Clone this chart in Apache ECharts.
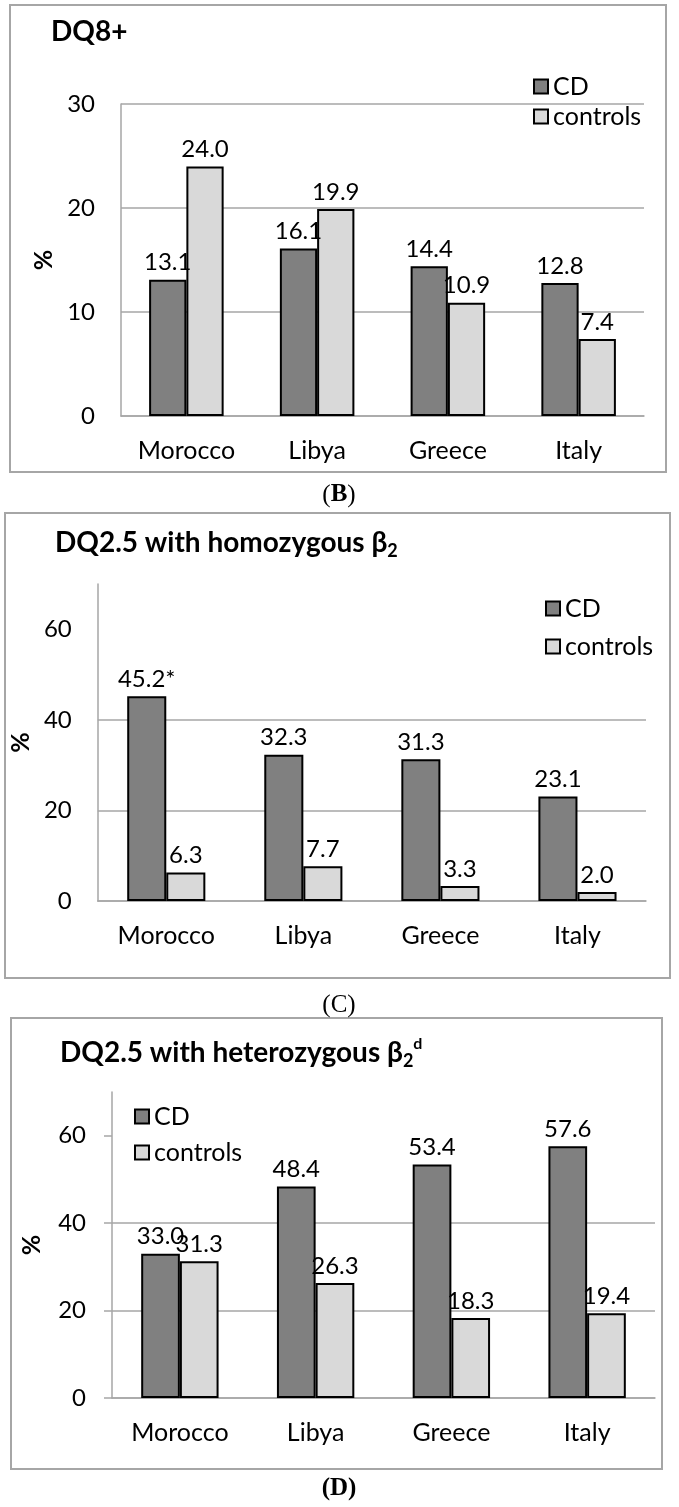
<!DOCTYPE html>
<html><head><meta charset="utf-8">
<script src="https://cdn.jsdelivr.net/npm/echarts@6/dist/echarts.min.js"></script>
<style>html,body{margin:0;padding:0;background:#fff}#c{width:679px;height:1507px}</style>
</head><body><div id="c"></div>
<script>
// ---- data ----
const categories = ['Morocco', 'Libya', 'Greece', 'Italy'];
const seriesNames = ['CD', 'controls'];
const dq8CD = [13.1, 16.1, 14.4, 12.8];
const dq8Controls = [24.0, 19.9, 10.9, 7.4];
const homoCD = [45.2, 32.3, 31.3, 23.1];
const homoControls = [6.3, 7.7, 3.3, 2.0];
const homoCDNote = ['*', '', '', ''];
const heteroCD = [33.0, 48.4, 53.4, 57.6];
const heteroControls = [31.3, 26.3, 18.3, 19.4];
const yTicksB = [0, 10, 20, 30];
const yTicksC = [0, 20, 40, 60];
const yTicksD = [0, 20, 40, 60];
const yMaxB = 30, yMaxC = 70, yMaxD = 70;
const titles = ['DQ8+', 'DQ2.5 with homozygous β{sub|2}', 'DQ2.5 with heterozygous β{sub|2}{sup|d}'];
const captions = ['({b|B})', '(C)', '{b|(D)}'];

// ---- style ----
const FONT = 'Lato, "Open Sans", sans-serif';
const GRAY = '#a6a6a6';
const DARK = '#808080';
const LIGHT = '#d9d9d9';

const grids = [
  { left: 121, right: 35, top: 104, height: 312 },
  { left: 95, right: 33, top: 584, height: 317 },
  { left: 112, right: 24, top: 1092, height: 306 }
];
const yTicks = [yTicksB, yTicksC, yTicksD];
const yMax = [yMaxB, yMaxC, yMaxD];
const nameGaps = [64, 52, 68];
const tickLen = [0, 0, 8];

const titleRich = {
  sub: { fontFamily: FONT, fontWeight: 'bold', fontSize: 18, lineHeight: 18, verticalAlign: 'bottom', color: '#000' },
  sup: { fontFamily: FONT, fontWeight: 'bold', fontSize: 16, lineHeight: 16, verticalAlign: 'top', color: '#000' }
};
const titlePos = [[51, 15], [55, 526], [60, 1036]];

const legendPos = [
  { left: 533, top: 74, itemGap: 5 },
  { left: 545, top: 596, itemGap: 13 },
  { left: 134, top: 1104, itemGap: 11 }
];

function labelFmt(note) {
  return p => p.value.toFixed(1) + (note ? note[p.dataIndex] : '');
}

function barSeries(name, data, idx, color, note) {
  return {
    name, type: 'bar', data, xAxisIndex: idx, yAxisIndex: idx,
    barGap: '0%', barCategoryGap: '43%',
    itemStyle: { color, borderColor: '#000', borderWidth: 2 },
    label: { show: true, position: 'top', distance: 5, fontFamily: FONT, fontSize: 24, color: '#000', formatter: labelFmt(note) }
  };
}

const option = {
  animation: false,
  backgroundColor: '#fff',
  title: titles.map((t, i) => ({
    text: t, left: titlePos[i][0], top: titlePos[i][1], padding: 0,
    textStyle: { fontFamily: FONT, fontWeight: 'bold', fontSize: 28, lineHeight: 34, color: '#000', rich: titleRich }
  })),
  legend: legendPos.map(p => ({
    data: seriesNames, orient: 'vertical', left: p.left, top: p.top, itemGap: p.itemGap,
    itemWidth: 14, itemHeight: 14, icon: 'rect', padding: 0,
    textStyle: { fontFamily: FONT, fontSize: 25, lineHeight: 24, color: '#000' }
  })),
  grid: grids,
  xAxis: grids.map((g, i) => ({
    type: 'category', gridIndex: i, data: categories,
    axisLine: { lineStyle: { color: GRAY, width: 1.5 } },
    axisTick: { show: false },
    axisLabel: { fontFamily: FONT, fontSize: 25, color: '#000', margin: 22 }
  })),
  yAxis: grids.map((g, i) => ({
    type: 'value', gridIndex: i, min: 0, max: yMax[i], interval: yTicks[i][1] - yTicks[i][0],
    name: '%', nameLocation: 'middle', nameRotate: 90, nameGap: nameGaps[i],
    nameTextStyle: { fontFamily: FONT, fontWeight: 'bold', fontSize: 25, color: '#000' },
    axisLine: { show: true, lineStyle: { color: GRAY, width: 1.5 } },
    axisTick: { show: tickLen[i] > 0, length: tickLen[i], lineStyle: { color: GRAY, width: 1.5 }, customValues: yTicks[i] },
    axisLabel: { fontFamily: FONT, fontSize: 24, color: '#000', margin: 26, customValues: yTicks[i] },
    splitLine: { show: true, showMaxLine: yMax[i] === yTicks[i][yTicks[i].length - 1], lineStyle: { color: GRAY, width: 1.5 } }
  })),
  series: [
    barSeries('CD', dq8CD, 0, DARK),
    barSeries('controls', dq8Controls, 0, LIGHT),
    barSeries('CD', homoCD, 1, DARK, homoCDNote),
    barSeries('controls', homoControls, 1, LIGHT),
    barSeries('CD', heteroCD, 2, DARK),
    barSeries('controls', heteroControls, 2, LIGHT)
  ],
  graphic: [
    { type: 'rect', shape: { x: 10, y: 5, width: 656, height: 467 }, style: { fill: 'none', stroke: GRAY, lineWidth: 2 }, silent: true },
    { type: 'rect', shape: { x: 5, y: 513, width: 665, height: 465 }, style: { fill: 'none', stroke: GRAY, lineWidth: 2 }, silent: true },
    { type: 'rect', shape: { x: 11, y: 1018, width: 651, height: 451 }, style: { fill: 'none', stroke: GRAY, lineWidth: 2 }, silent: true },
    ...captions.map((c, i) => ({
      type: 'text', x: 339, y: [495, 1005, 1489][i], silent: true,
      style: {
        text: c, align: 'center', verticalAlign: 'middle',
        font: '25px "Liberation Serif", "Times New Roman", serif', fill: '#000',
        rich: { b: { font: 'bold 25px "Liberation Serif", "Times New Roman", serif', fill: '#000' } }
      }
    }))
  ]
};

const chart = echarts.init(document.getElementById('c'), null, { renderer: 'canvas' });
chart.setOption(option);
</script>
</body></html>
